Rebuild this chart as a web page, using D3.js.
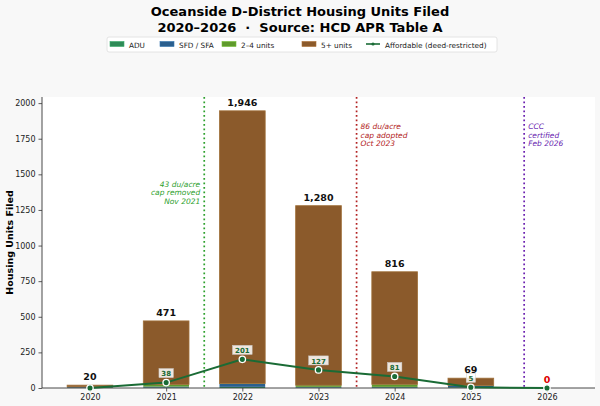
<!DOCTYPE html>
<html>
<head>
<meta charset="utf-8">
<script src="https://cdn.jsdelivr.net/npm/d3@7"></script>
<style>
  body { margin: 0; background: #f8f8f8; }
  text { font-family: "DejaVu Sans", sans-serif; white-space: pre; }
</style>
</head>
<body>
<script>
var years = [2020, 2021, 2022, 2023, 2024, 2025, 2026];
var adu = [3, 4, 8, 4, 5, 5, 0];
var sfd = [5, 6, 20, 4, 3, 12, 0];
var small = [0, 14, 4, 12, 18, 0, 0];
var large = [12, 447, 1914, 1260, 790, 52, 0];
var totals = [20, 471, 1946, 1280, 816, 69, 0];
var affordable = [0, 38, 201, 127, 81, 5, 0];
var yTicks = [0, 250, 500, 750, 1000, 1250, 1500, 1750, 2000];

var seriesNames = ["ADU", "SFD / SFA", "2\u20134 units", "5+ units"];
var seriesColors = ["#2e8b57", "#2b5f8e", "#5f9a2c", "#8b5a2b"];

var events = [
    { x: 2021.5, lines: ["43 du/acre", "cap removed", "Nov 2021"], color: "#2ca02c", side: "left", y: 1410 },
    { x: 2023.5, lines: ["86 du/acre", "cap adopted", "Oct 2023"], color: "#b22222", side: "right", y: 1815 },
    { x: 2025.7, lines: ["CCC", "certified", "Feb 2026"], color: "#6a1fb0", side: "right", y: 1815 }
];

var svgWidth = 600, svgHeight = 406,
    margin = { top: 97, right: 5, bottom: 18, left: 42 };

var svg = d3.select("body").append("svg")
    .attr("width", svgWidth)
    .attr("height", svgHeight);

var plotW = svgWidth - margin.left - margin.right,
    plotH = svgHeight - margin.top - margin.bottom;

var xScale = d3.scaleLinear().domain([2019.37, 2026.63]).range([margin.left, margin.left + plotW]);
var yScale = d3.scaleLinear().domain([0, 2043]).range([margin.top + plotH, margin.top]);

// axes background
svg.append("rect")
    .attr("x", margin.left).attr("y", margin.top)
    .attr("width", plotW).attr("height", plotH)
    .attr("fill", "#ffffff");

// title
svg.append("text").attr("x", 300).attr("y", 16).attr("text-anchor", "middle")
    .attr("font-size", 13).attr("font-weight", "bold").text("Oceanside D-District Housing Units Filed");
svg.append("text").attr("x", 300).attr("y", 32).attr("text-anchor", "middle")
    .attr("font-size", 13).attr("font-weight", "bold").text("2020\u20132026  \u00b7  Source: HCD APR Table A");

// stacked bars
var rows = years.map(function (yr, i) {
    return { year: yr, a: adu[i], b: sfd[i], c: small[i], d: large[i] };
});
var stack = d3.stack().keys(["a", "b", "c", "d"])(rows);
var barW = xScale(2020.3) - xScale(2019.7);

stack.forEach(function (layer, k) {
    svg.append("g").selectAll("rect")
        .data(layer)
        .enter().append("rect")
        .attr("x", function (d) { return xScale(d.data.year) - barW / 2; })
        .attr("y", function (d) { return yScale(d[1]); })
        .attr("width", barW)
        .attr("height", function (d) { return yScale(d[0]) - yScale(d[1]); })
        .attr("fill", seriesColors[k])
        .attr("stroke", k == 3 ? "#a0703a" : "none")
        .attr("stroke-width", 0.8);
});

// event lines
events.forEach(function (ev) {
    var x = xScale(ev.x);
    svg.append("line")
        .attr("x1", x).attr("x2", x)
        .attr("y1", margin.top).attr("y2", margin.top + plotH)
        .attr("stroke", ev.color).attr("stroke-width", 1.7)
        .attr("stroke-dasharray", "1.7,2.8");
    var t = svg.append("text")
        .attr("font-size", 7.5).attr("font-style", "italic")
        .attr("fill", ev.color)
        .attr("text-anchor", ev.side == "left" ? "end" : "start");
    ev.lines.forEach(function (ln, j) {
        t.append("tspan")
            .attr("x", ev.side == "left" ? x - 4 : x + 4)
            .attr("y", yScale(ev.y) + j * 8.2)
            .text(ln);
    });
});

// total labels
svg.append("g").selectAll("text")
    .data(years)
    .enter().append("text")
    .attr("x", function (d) { return xScale(d); })
    .attr("y", function (d, i) { return yScale(totals[i]) - 5; })
    .attr("text-anchor", "middle")
    .attr("font-size", 9.5).attr("font-weight", "bold")
    .attr("fill", function (d, i) { return totals[i] == 0 ? "#dd0000" : "#111"; })
    .text(function (d, i) { return d3.format(",")(totals[i]); });

// axes
var xAxis = d3.axisBottom(xScale).tickValues(years).tickFormat(d3.format("d")).tickSize(3.5);
var yAxis = d3.axisLeft(yScale).tickValues(yTicks).tickFormat(d3.format("d")).tickSize(3.5);

var xg = svg.append("g")
    .attr("transform", "translate(0," + (margin.top + plotH) + ")")
    .call(xAxis);
xg.select(".domain").attr("d", "M" + margin.left + ",0H" + (margin.left + plotW));
var yg = svg.append("g")
    .attr("transform", "translate(" + margin.left + ",0)")
    .call(yAxis);
yg.select(".domain").attr("d", "M0," + margin.top + "V" + (margin.top + plotH));
[xg, yg].forEach(function (g) {
    g.selectAll("text").attr("font-size", 8).attr("fill", "#222").attr("font-family", "DejaVu Sans");
    g.selectAll("line").attr("stroke", "#333").attr("stroke-width", 0.8);
    g.select(".domain").attr("stroke", "#333").attr("stroke-width", 0.9);
});

svg.append("text")
    .attr("transform", "translate(13," + (margin.top + plotH / 2) + ") rotate(-90)")
    .attr("text-anchor", "middle")
    .attr("font-size", 9.5).attr("font-weight", "bold")
    .text("Housing Units Filed");

// affordable line
var lineGreen = "#1a6b35";
var line = d3.line()
    .x(function (d, i) { return xScale(years[i]); })
    .y(function (d) { return yScale(d); });
svg.append("path")
    .datum(affordable)
    .attr("d", line)
    .attr("fill", "none")
    .attr("stroke", lineGreen)
    .attr("stroke-width", 2);
svg.append("g").selectAll("circle")
    .data(affordable)
    .enter().append("circle")
    .attr("cx", function (d, i) { return xScale(years[i]); })
    .attr("cy", function (d) { return yScale(d); })
    .attr("r", 3.2)
    .attr("fill", lineGreen)
    .attr("stroke", "#fff")
    .attr("stroke-width", 1.3);

// affordable labels
var labs = svg.append("g").selectAll("g")
    .data(affordable.map(function (v, i) { return { v: v, yr: years[i] }; }).filter(function (d) { return d.v > 0; }))
    .enter().append("g")
    .attr("transform", function (d) { return "translate(" + xScale(d.yr) + "," + (yScale(d.v) - 9) + ")"; });
labs.append("rect")
    .attr("x", function (d) { return -String(d.v).length * 2.6 - 2; })
    .attr("y", -5)
    .attr("width", function (d) { return String(d.v).length * 5.2 + 4; })
    .attr("height", 9)
    .attr("fill", "#fff").attr("fill-opacity", 0.85)
    .attr("stroke", "#ccc").attr("stroke-width", 0.5);
labs.append("text")
    .attr("text-anchor", "middle")
    .attr("y", 2.6)
    .attr("font-size", 7).attr("font-weight", "bold")
    .attr("fill", lineGreen)
    .text(function (d) { return d.v; });

// legend
var legend = svg.append("g");
legend.append("rect")
    .attr("x", 107).attr("y", 37).attr("width", 390).attr("height", 15)
    .attr("fill", "#fff").attr("stroke", "#ddd").attr("stroke-width", 0.8).attr("rx", 2);
var legX = [110, 160, 222, 302];
seriesNames.forEach(function (name, k) {
    legend.append("rect")
        .attr("x", legX[k]).attr("y", 41.5).attr("width", 14).attr("height", 5)
        .attr("fill", seriesColors[k])
        .attr("stroke", d3.color(seriesColors[k]).brighter(0.6)).attr("stroke-width", 0.6);
    legend.append("text")
        .attr("x", legX[k] + 19).attr("y", 47.5)
        .attr("font-size", 7.3).attr("fill", "#222")
        .text(name);
});
legend.append("line")
    .attr("x1", 366).attr("x2", 380).attr("y1", 44).attr("y2", 44)
    .attr("stroke", lineGreen).attr("stroke-width", 1.6);
legend.append("circle")
    .attr("cx", 373).attr("cy", 44).attr("r", 1.6).attr("fill", lineGreen);
legend.append("text")
    .attr("x", 385).attr("y", 47.5)
    .attr("font-size", 7.3).attr("fill", "#222")
    .text("Affordable (deed-restricted)");
</script>
</body>
</html>
